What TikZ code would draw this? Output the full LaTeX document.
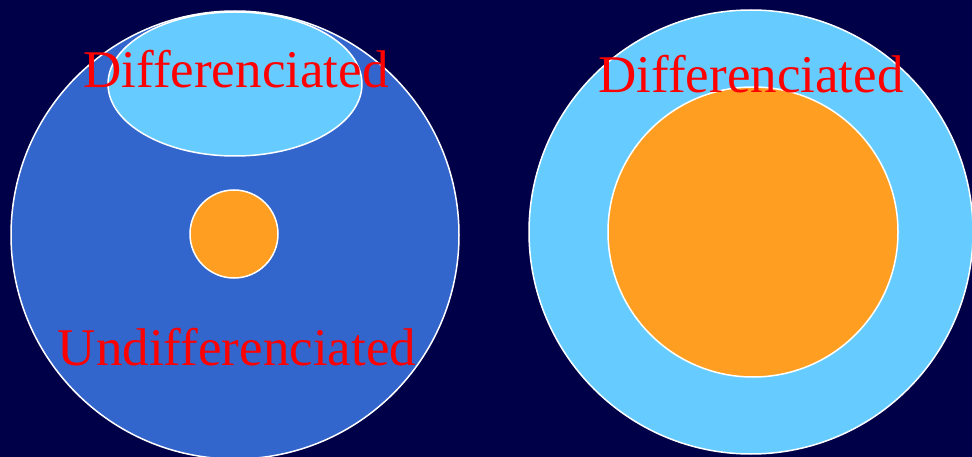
\documentclass[tikz,border=0pt]{standalone}
\usepackage{fontspec}
\setmainfont{Liberation Serif}
\definecolor{bgnavy}{RGB}{0,0,72}
\definecolor{midblue}{RGB}{51,102,204}
\definecolor{lightblue}{RGB}{102,204,255}
\definecolor{orangefill}{RGB}{255,158,32}
\definecolor{labelred}{RGB}{255,0,0}
\begin{document}
\begin{tikzpicture}[x=1pt,y=-1pt,
  shapeline/.style={draw=white,line width=1.5pt},
  lbl/.style={text=labelred,font=\fontsize{53}{60}\selectfont,anchor=base,inner sep=0pt}]
\fill[bgnavy] (0,0) rectangle (972,457);
\useasboundingbox (0,0) rectangle (972,457);
\begin{scope}
\clip (0,0) rectangle (972,457);
% left
\path[shapeline,fill=midblue] (235,235) circle[radius=224];
\path[shapeline,fill=lightblue] (235,84) ellipse[x radius=127,y radius=72];
\path[shapeline,fill=orangefill] (234,234) circle[radius=44];
% right
\path[shapeline,fill=lightblue] (751,232) circle[radius=222];
\path[shapeline,fill=orangefill] (753,232) circle[radius=145];
\end{scope}
\node[lbl] (d1) at (236,88) {Differenciated};
\node[lbl] (u1) at (237,365) {Undifferenciated};
\node[lbl] (d2) at (751,93) {Differenciated};
\end{tikzpicture}
\end{document}
